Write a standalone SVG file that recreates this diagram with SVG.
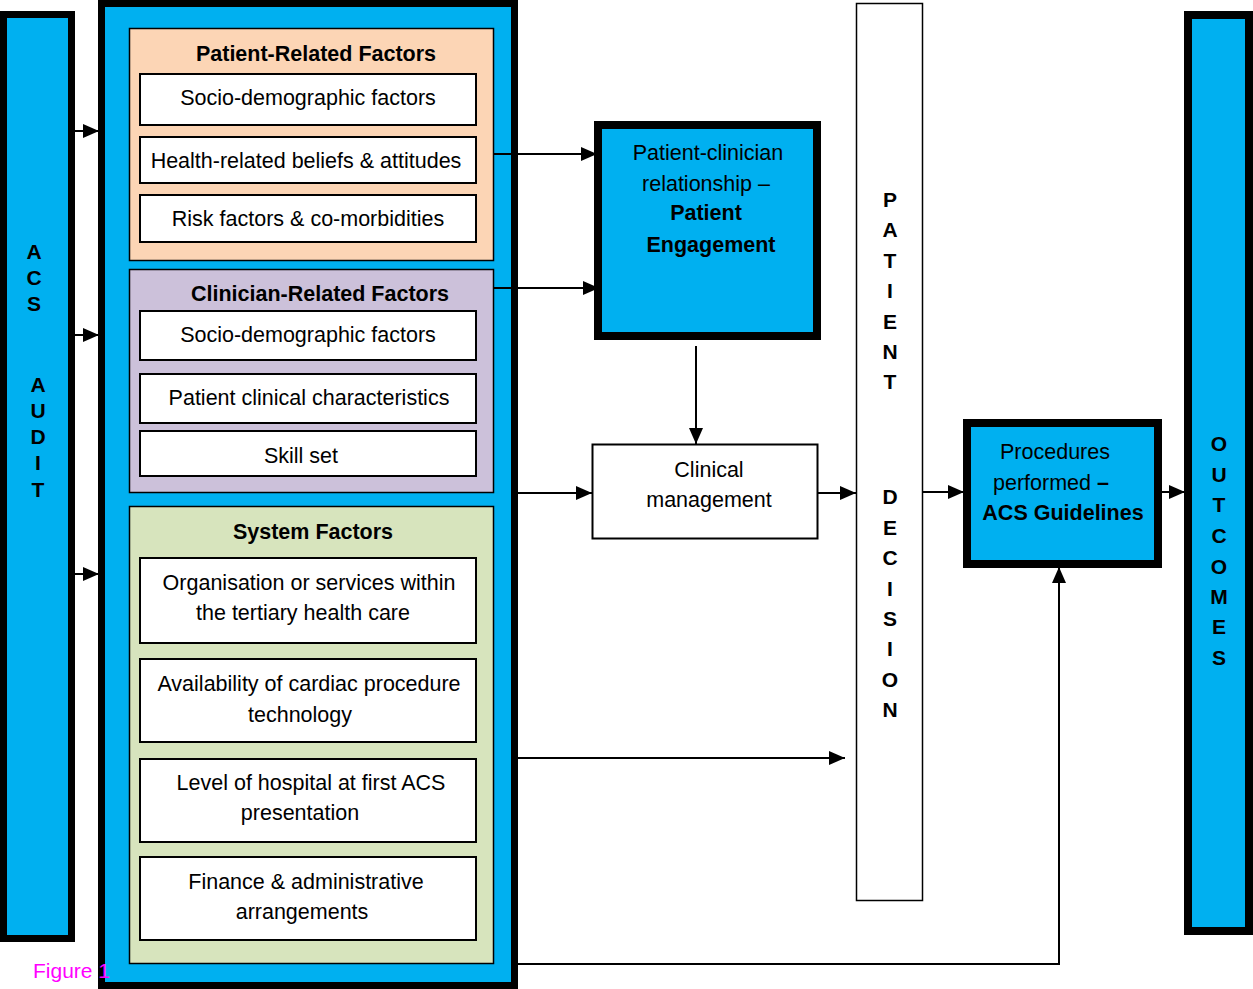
<svg xmlns="http://www.w3.org/2000/svg" width="1253" height="989" viewBox="0 0 1253 989">
<style>
text{font-family:"Liberation Sans",Arial,sans-serif;fill:#000}
.t{font-size:21.5px;text-anchor:middle}
.b{font-weight:bold}
.v{font-size:21px;font-weight:bold;text-anchor:middle}
.wb{fill:#fff;stroke:#000;stroke-width:2}
.blue{fill:#00B0F0;stroke:#000}
.c{stroke:#000;stroke-width:2;fill:none}
</style>
<defs>
<marker id="ah" markerUnits="userSpaceOnUse" markerWidth="16" markerHeight="14" refX="16" refY="7" orient="auto">
<path d="M0,0 L16,7 L0,14 z" fill="#000"/>
</marker>
</defs>
<rect width="1253" height="989" fill="#fff"/>

<g id="acs-audit">
<rect class="blue" x="3.5" y="14.5" width="68" height="924" stroke-width="7"/>
<text class="v" x="34" y="259">A</text>
<text class="v" x="34" y="285">C</text>
<text class="v" x="34" y="311">S</text>
<text class="v" x="38" y="392">A</text>
<text class="v" x="38" y="418">U</text>
<text class="v" x="38" y="444">D</text>
<text class="v" x="38" y="470">I</text>
<text class="v" x="38" y="497">T</text>
</g>

<g id="factors">
<rect class="blue" x="101.5" y="3.5" width="413" height="982" stroke-width="7"/>
</g>

<g id="patient-related">
<rect x="129.5" y="28.5" width="364" height="232" fill="#FCD5B5" stroke="#000" stroke-width="1.5"/>
<text class="t b" x="316" y="61">Patient-Related Factors</text>
<rect class="wb" x="140" y="74" width="336" height="51"/>
<text class="t" x="308" y="105">Socio-demographic factors</text>
<rect class="wb" x="140" y="137" width="336" height="46"/>
<text class="t" x="306" y="168">Health-related beliefs &amp; attitudes</text>
<rect class="wb" x="140" y="195" width="336" height="47"/>
<text class="t" x="308" y="226">Risk factors &amp; co-morbidities</text>
</g>

<g id="clinician-related">
<rect x="129.5" y="269.5" width="364" height="223" fill="#CCC1DA" stroke="#000" stroke-width="1.5"/>
<text class="t b" x="320" y="301">Clinician-Related Factors</text>
<rect class="wb" x="140" y="311" width="336" height="49"/>
<text class="t" x="308" y="342">Socio-demographic factors</text>
<rect class="wb" x="140" y="374" width="336" height="49"/>
<text class="t" x="309" y="405">Patient clinical characteristics</text>
<rect class="wb" x="140" y="431" width="336" height="45"/>
<text class="t" x="301" y="463">Skill set</text>
</g>

<g id="system-factors">
<rect x="129.5" y="506.5" width="364" height="457" fill="#D7E4BD" stroke="#000" stroke-width="1.5"/>
<text class="t b" x="313" y="539">System Factors</text>
<rect class="wb" x="140" y="558" width="336" height="85"/>
<text class="t" x="309" y="590">Organisation or services within</text>
<text class="t" x="303" y="620">the tertiary health care</text>
<rect class="wb" x="140" y="659" width="336" height="83"/>
<text class="t" x="309" y="691">Availability of cardiac procedure</text>
<text class="t" x="300" y="722">technology</text>
<rect class="wb" x="140" y="759" width="336" height="83"/>
<text class="t" x="311" y="790">Level of hospital at first ACS</text>
<text class="t" x="300" y="820">presentation</text>
<rect class="wb" x="140" y="857" width="336" height="83"/>
<text class="t" x="306" y="889">Finance &amp; administrative</text>
<text class="t" x="302" y="919">arrangements</text>
</g>

<g id="patient-engagement">
<rect class="blue" x="598" y="125" width="219" height="211" stroke-width="8"/>
<text class="t" x="708" y="160">Patient-clinician</text>
<text class="t" x="706" y="191">relationship –</text>
<text class="t b" x="706" y="220">Patient</text>
<text class="t b" x="711" y="252">Engagement</text>
</g>

<g id="clinical-management">
<rect class="wb" x="592.5" y="444.5" width="225" height="94" stroke-width="1.5"/>
<text class="t" x="709" y="477">Clinical</text>
<text class="t" x="709" y="507">management</text>
</g>

<g id="patient-decision">
<rect x="856.5" y="3.5" width="66" height="897" fill="#fff" stroke="#000" stroke-width="1.5"/>
<text class="v" x="890" y="207">P</text>
<text class="v" x="890" y="237">A</text>
<text class="v" x="890" y="268">T</text>
<text class="v" x="890" y="298">I</text>
<text class="v" x="890" y="329">E</text>
<text class="v" x="890" y="359">N</text>
<text class="v" x="890" y="389">T</text>
<text class="v" x="890" y="504">D</text>
<text class="v" x="890" y="535">E</text>
<text class="v" x="890" y="565">C</text>
<text class="v" x="890" y="596">I</text>
<text class="v" x="890" y="626">S</text>
<text class="v" x="890" y="656">I</text>
<text class="v" x="890" y="687">O</text>
<text class="v" x="890" y="717">N</text>
</g>

<g id="procedures">
<rect class="blue" x="967" y="423" width="191" height="141" stroke-width="8"/>
<text class="t" x="1055" y="459">Procedures</text>
<text style="font-size:21.5px" x="993" y="490">performed <tspan font-weight="bold">–</tspan></text>
<text class="t b" x="1063" y="520">ACS Guidelines</text>
</g>

<g id="outcomes">
<rect class="blue" x="1188" y="15" width="61" height="916" stroke-width="8"/>
<text class="v" x="1219" y="451">O</text>
<text class="v" x="1219" y="482">U</text>
<text class="v" x="1219" y="512">T</text>
<text class="v" x="1219" y="543">C</text>
<text class="v" x="1219" y="574">O</text>
<text class="v" x="1219" y="604">M</text>
<text class="v" x="1219" y="634">E</text>
<text class="v" x="1219" y="665">S</text>
</g>

<g id="connectors">
<line class="c" x1="75" y1="131" x2="99" y2="131" marker-end="url(#ah)"/>
<line class="c" x1="75" y1="335" x2="99" y2="335" marker-end="url(#ah)"/>
<line class="c" x1="75" y1="574" x2="99" y2="574" marker-end="url(#ah)"/>
<line class="c" x1="494" y1="154" x2="597" y2="154" marker-end="url(#ah)"/>
<line class="c" x1="494" y1="288" x2="599" y2="288" marker-end="url(#ah)"/>
<line class="c" x1="696" y1="346" x2="696" y2="444" marker-end="url(#ah)"/>
<line class="c" x1="518" y1="493" x2="592" y2="493" marker-end="url(#ah)"/>
<line class="c" x1="818" y1="493" x2="856" y2="493" marker-end="url(#ah)"/>
<line class="c" x1="518" y1="758" x2="845" y2="758" marker-end="url(#ah)"/>
<line class="c" x1="923" y1="492" x2="964" y2="492" marker-end="url(#ah)"/>
<line class="c" x1="1162" y1="492" x2="1185" y2="492" marker-end="url(#ah)"/>
<polyline class="c" points="518,964 1059,964 1059,567" marker-end="url(#ah)"/>
</g>

<text x="33" y="978" style="font-size:21px;fill:#FF00FF">Figure 1</text>
</svg>
